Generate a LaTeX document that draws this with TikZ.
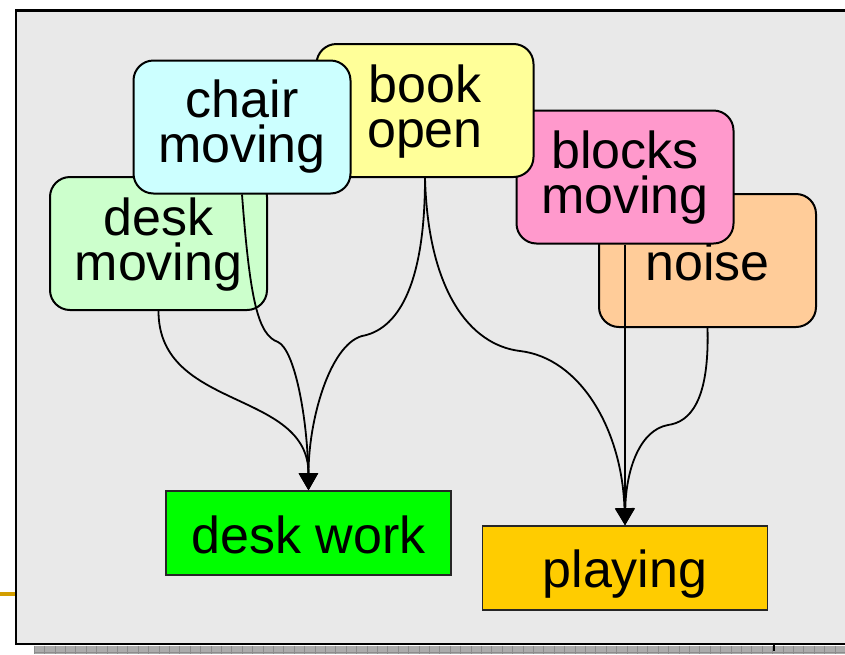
\documentclass[tikz,border=0pt]{standalone}
\usepackage{fontspec}
\setmainfont{Liberation Sans}
\usetikzlibrary{arrows.meta}

\definecolor{panelgray}{HTML}{E9E9E9}
\definecolor{stripgray}{HTML}{ABABAB}
\definecolor{stripline}{HTML}{8C8C8C}
\definecolor{goldbar}{HTML}{D39E00}
\definecolor{deskgreen}{HTML}{CCFFCC}
\definecolor{chaircyan}{HTML}{CCFFFF}
\definecolor{bookyellow}{HTML}{FFFF99}
\definecolor{blockspink}{HTML}{FF99CC}
\definecolor{noisepeach}{HTML}{FFCC99}
\definecolor{workgreen}{HTML}{00FF00}
\definecolor{playgold}{HTML}{FFCC00}

\begin{document}
\begin{tikzpicture}[x=1pt,y=-1pt,
  cue/.style={draw=black, line width=2pt, rounded corners=20pt,
    minimum width=217pt, minimum height=133pt, inner sep=0pt,
    text width=217pt, align=center, text height=0pt,
    font=\fontsize{52}{45}\selectfont},
  activity/.style={draw=black!85, line width=1.6pt,
    minimum width=285pt, minimum height=84pt, inner sep=0pt,
    text depth=0pt, font=\fontsize{52}{45}\selectfont},
  link/.style={draw=black, line width=1.8pt,
    -{Triangle[length=17pt,width=19pt]}}]

\useasboundingbox (0,0) rectangle (845,654);

% background panel with its strip and side mark
\filldraw[fill=panelgray, draw=black, line width=2.2pt] (16,10.5) rectangle (860,644);
\fill[stripgray] (34,645.5) rectangle (845,654);
\foreach \i in {0,...,78}
  \draw[stripline, line width=0.6pt] ({34+10.4*\i},645.5) -- ++(0,8.5);
\draw[stripline, line width=0.6pt] (34,652) -- (845,652);
\fill[black] (772.5,645) rectangle (775,650.5);
\fill[goldbar] (0,592) rectangle (15,596);

% cue nodes, back to front
\node[cue, fill=noisepeach, text height=39pt, text depth=0pt] (noise) at (707.5,260.5) {noise};
\node[cue, fill=blockspink, text depth=18pt] (blocks) at (625,177) {blocks\\moving};
\node[cue, fill=deskgreen, text depth=17pt] (desk) at (158.5,243.5) {desk\\moving};
\node[cue, fill=bookyellow, text depth=17pt] (book) at (425,110.5) {book\\open};
\node[cue, fill=chaircyan, text depth=20pt] (chair) at (242,127) {chair\\moving};

% activity nodes
\node[activity, fill=workgreen, text height=40pt] (work) at (308.5,533) {desk work};
\node[activity, fill=playgold, text height=38pt] (play) at (625,568) {playing};

% bends of the two-piece connectors
\coordinate (kinkA) at (278,342);
\coordinate (kinkB) at (362,336);
\coordinate (kinkC) at (520,351);
\coordinate (kinkD) at (668,425);

% connectors into desk work
\draw[link] (desk.south) .. controls +(0,100) and +(0,-101) .. (work.north);
\draw[link] (chair.south) .. controls +(8,106) and +(-20,-7) .. (kinkA)
  .. controls +(17,8) and +(-1,-71) .. (work.north);
\draw[link] (book.south) .. controls +(0,113) and +(33,-6) .. (kinkB)
  .. controls +(-32,9) and +(0,-71) .. (work.north);

% connectors into playing
\draw[link] (book.south) .. controls +(3,113) and +(-50,-6) .. (kinkC)
  .. controls +(60,7) and +(-3,-96) .. (play.north);
\draw[link] (blocks.south) -- (play.north);
\draw[link] (noise.south) .. controls +(2,73) and +(22,-3) .. (kinkD)
  .. controls +(-28,5) and +(1,-56) .. (play.north);
\end{tikzpicture}
\end{document}
